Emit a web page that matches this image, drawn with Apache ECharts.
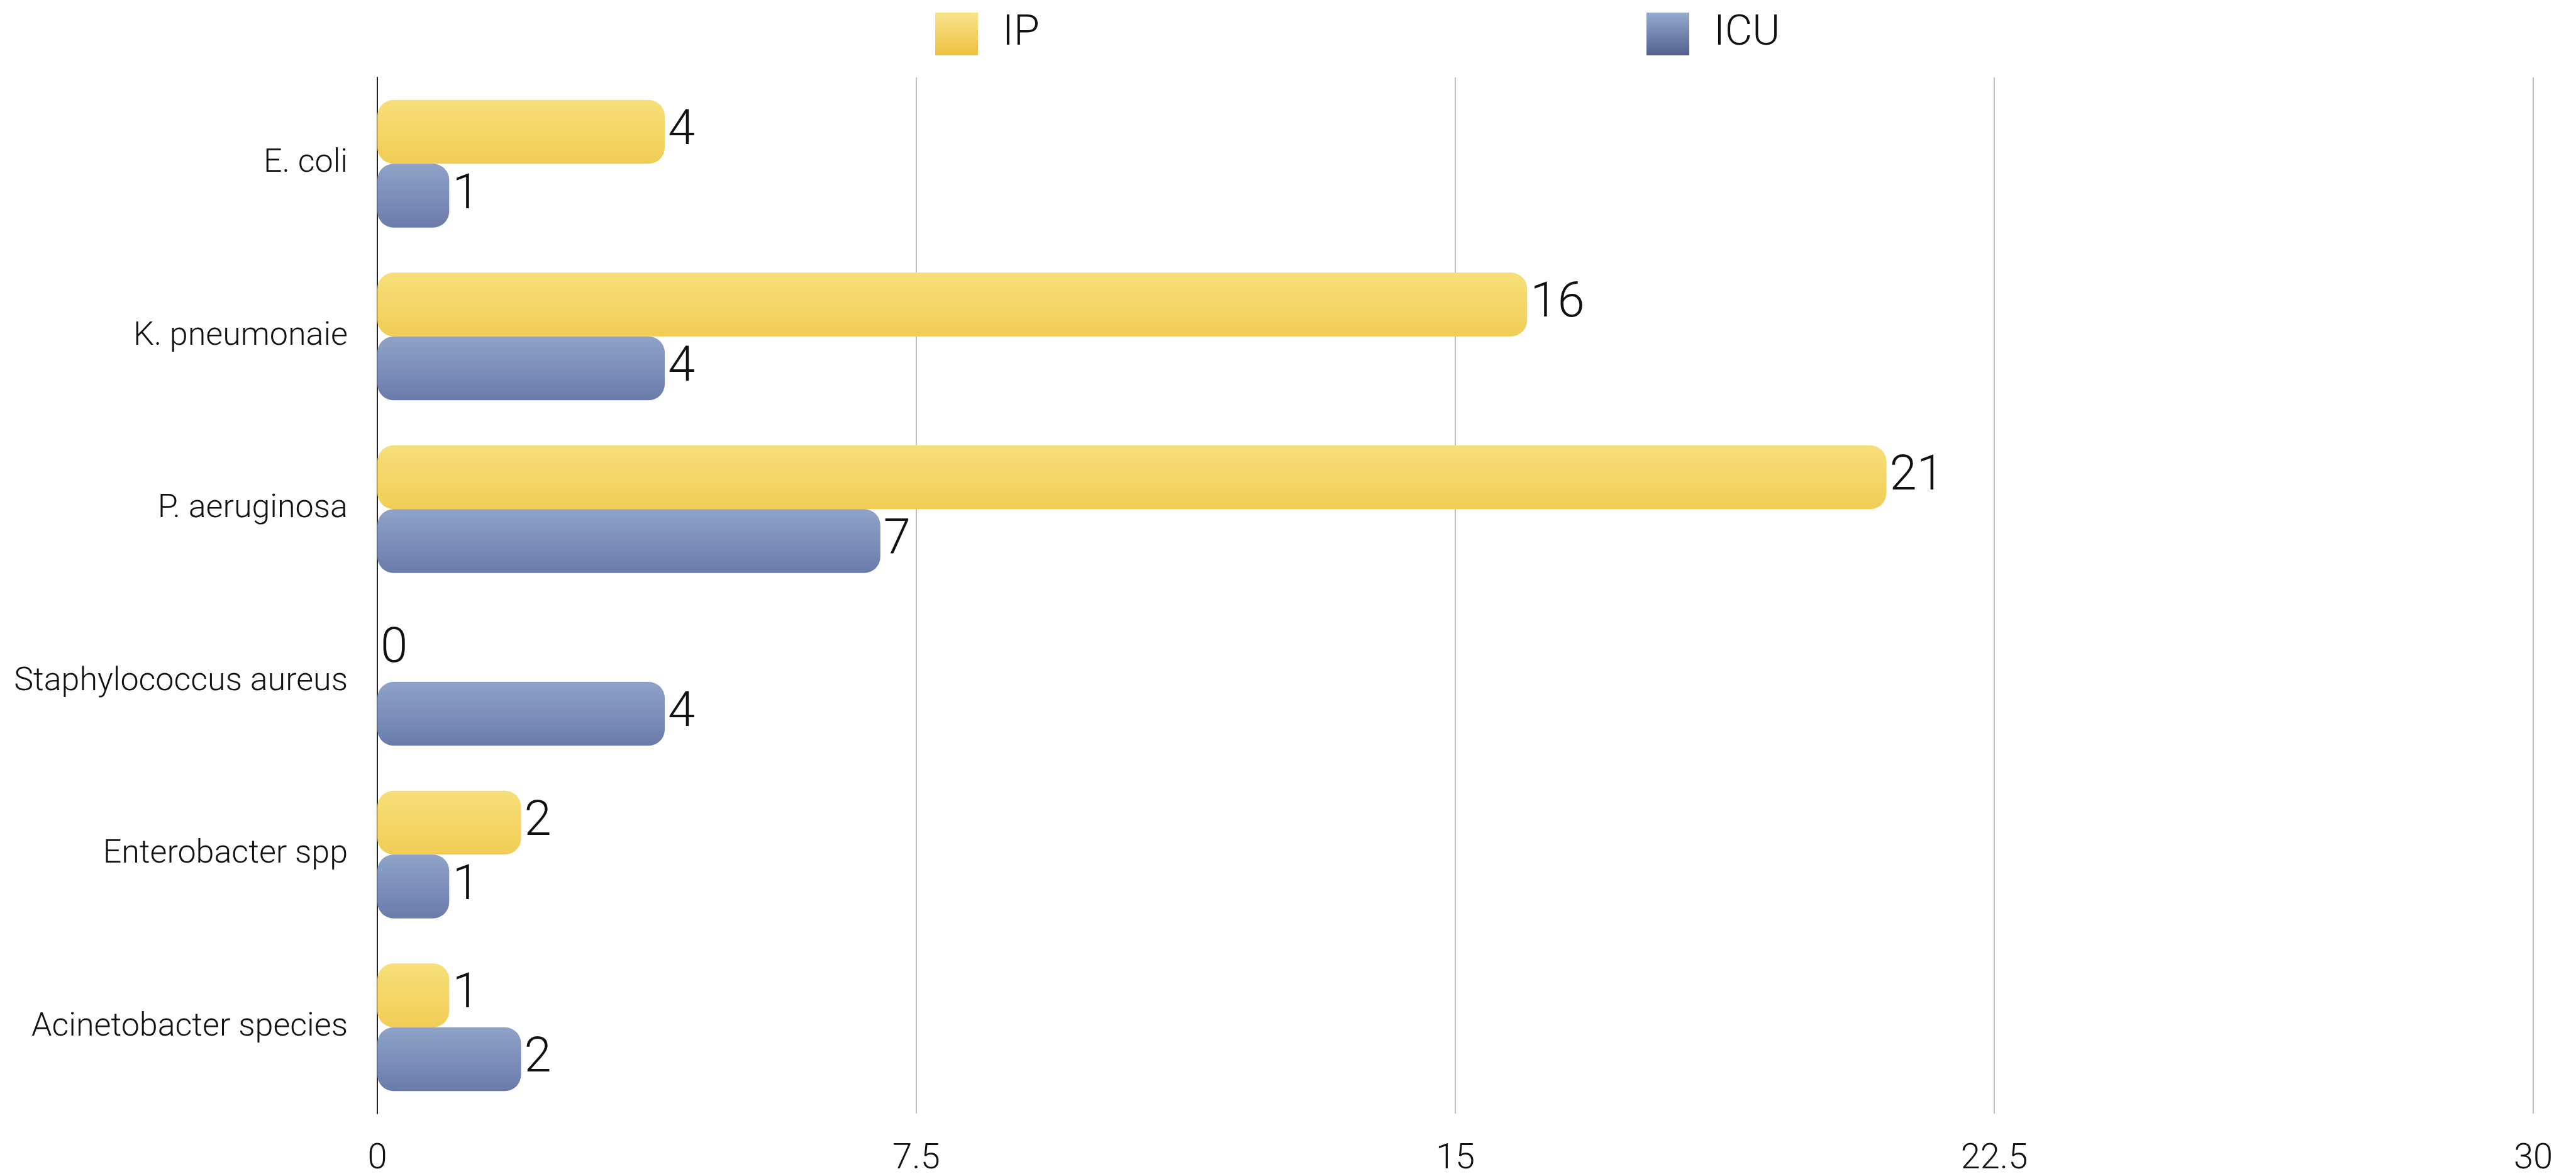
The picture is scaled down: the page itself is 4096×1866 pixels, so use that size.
<!DOCTYPE html>
<html>
<head>
<meta charset="utf-8">
<script src="https://cdn.jsdelivr.net/npm/echarts@6/dist/echarts.min.js"></script>
<style>
  html, body { margin: 0; padding: 0; background: #fff; }
  #chart { width: 4096px; height: 1866px; }
</style>
</head>
<body>
<div id="chart"></div>
<script>
const categories = ['E. coli', 'K. pneumonaie', 'P. aeruginosa', 'Staphylococcus aureus', 'Enterobacter spp', 'Acinetobacter species'];
const ipValues = [4, 16, 21, 0, 2, 1];
const icuValues = [1, 4, 7, 4, 1, 2];
const xTicks = [0, 7.5, 15, 22.5, 30];

const FONT = 'Roboto';
const chart = echarts.init(document.getElementById('chart'));

// bar fills: soft vertical gradients, like the watercolour texture
const yellowFill = new echarts.graphic.LinearGradient(0, 0, 0, 1, [
    { offset: 0, color: '#f7df7a' },
    { offset: 1, color: '#f1cd55' }
]);
const blueFill = new echarts.graphic.LinearGradient(0, 0, 0, 1, [
    { offset: 0, color: '#8fa3c8' },
    { offset: 1, color: '#6a7bab' }
]);
const yellowSwatch = new echarts.graphic.LinearGradient(0, 0, 0, 1, [
    { offset: 0, color: '#f8e48c' },
    { offset: 1, color: '#efc240' }
]);
const blueSwatch = new echarts.graphic.LinearGradient(0, 0, 0, 1, [
    { offset: 0, color: '#95abcc' },
    { offset: 1, color: '#53608f' }
]);

const valueLabel = {
    show: true,
    position: 'right',
    distance: 5,
    fontFamily: FONT,
    fontWeight: 300,
    fontSize: 78,
    color: '#111'
};

const legendText = {
    fontFamily: FONT,
    fontWeight: 300,
    fontSize: 67,
    color: '#111',
    padding: [0, 0, 0, 34]
};

const option = {
    backgroundColor: '#fff',
    animation: false,
    legend: [
        {
            data: [{ name: 'IP', itemStyle: { color: yellowSwatch } }],
            left: 1482,
            top: 15,
            itemWidth: 68,
            itemHeight: 68,
            icon: 'rect',
            textStyle: legendText
        },
        {
            data: [{ name: 'ICU', itemStyle: { color: blueSwatch } }],
            left: 2613,
            top: 15,
            itemWidth: 68,
            itemHeight: 68,
            icon: 'rect',
            textStyle: legendText
        }
    ],
    grid: { left: 600, right: 68, top: 123, bottom: 96, containLabel: false, outerBoundsMode: 'none' },
    xAxis: {
        type: 'value',
        min: xTicks[0],
        max: xTicks[xTicks.length - 1],
        interval: 7.5,
        axisLine: { show: false },
        axisTick: { show: false },
        splitLine: { lineStyle: { color: '#bfbfbf', width: 2 } },
        axisLabel: {
            fontFamily: FONT,
            fontWeight: 300,
            fontSize: 56,
            color: '#111',
            margin: 45
        }
    },
    yAxis: {
        type: 'category',
        data: categories,
        inverse: true,
        axisLine: { show: true, lineStyle: { color: '#222', width: 2 } },
        axisTick: { show: false },
        axisLabel: {
            fontFamily: FONT,
            fontWeight: 300,
            fontSize: 52,
            color: '#111',
            margin: 47
        }
    },
    series: [
        {
            name: 'IP',
            type: 'bar',
            data: ipValues,
            barGap: '0%',
            barCategoryGap: '26%',
            itemStyle: { color: yellowFill, borderRadius: 26 },
            label: valueLabel
        },
        {
            name: 'ICU',
            type: 'bar',
            data: icuValues,
            barGap: '0%',
            barCategoryGap: '26%',
            itemStyle: { color: blueFill, borderRadius: 26 },
            label: valueLabel
        }
    ]
};

chart.setOption(option);
</script>
</body>
</html>
